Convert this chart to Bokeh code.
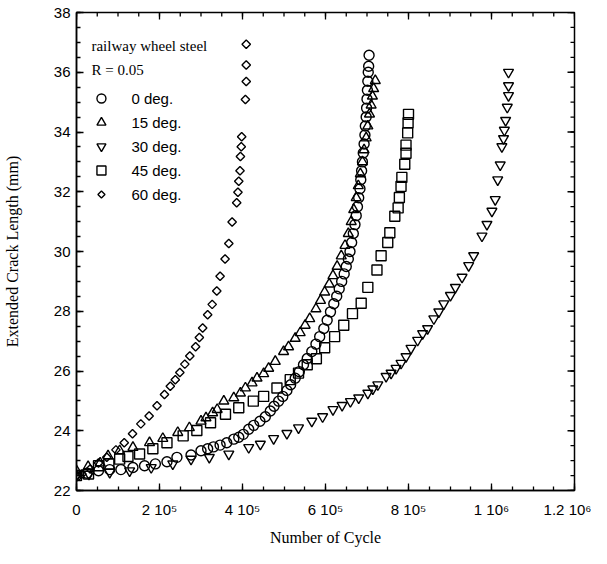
import numpy as np
from bokeh.plotting import figure
from bokeh.models import FixedTicker, Range1d, Label
from bokeh.embed import file_html
from bokeh.resources import INLINE

# ---------------- data (cycles, crack length mm) ----------------
cyc_0 = [0, 25e3, 53e3, 80e3, 107e3, 136e3, 164e3, 190e3, 218e3, 242e3, 276e3, 300e3, 316e3,
         330e3, 346e3, 362e3, 379e3, 391e3, 402e3, 415e3, 427e3, 442e3, 455e3, 467e3, 476e3,
         487e3, 497e3, 507e3, 516e3, 527e3, 537e3, 547e3, 556e3, 567e3, 577e3, 586e3, 596e3,
         604e3, 612e3, 620e3, 627e3, 633e3, 639e3, 645e3, 650e3, 655e3, 659e3, 663e3, 667e3,
         671e3, 674e3, 677e3, 680e3, 683e3, 685e3, 687e3, 689e3, 691e3, 693e3, 695e3, 696e3,
         698e3, 699e3, 700e3, 701e3, 702e3, 703e3, 704e3, 705e3]
len_0 = [22.50, 22.58, 22.66, 22.70, 22.70, 22.77, 22.83, 22.89, 22.96, 23.11, 23.19, 23.33, 23.40,
         23.46, 23.52, 23.60, 23.72, 23.78, 23.88, 24.05, 24.18, 24.32, 24.47, 24.66, 24.82,
         24.99, 25.15, 25.35, 25.54, 25.76, 25.98, 26.21, 26.42, 26.65, 26.90, 27.15, 27.42,
         27.70, 27.98, 28.25, 28.50, 28.75, 29.00, 29.25, 29.50, 29.75, 30.00, 30.30, 30.60,
         30.90, 31.20, 31.50, 31.80, 32.10, 32.40, 32.70, 33.00, 33.30, 33.60, 33.90, 34.20,
         34.50, 34.80, 35.10, 35.40, 35.70, 36.00, 36.20, 36.57]

cyc_15 = [0, 28e3, 57e3, 76e3, 104e3, 136e3, 176e3, 208e3, 244e3, 272e3, 300e3, 312e3, 328e3,
          339e3, 355e3, 379e3, 395e3, 407e3, 423e3, 435e3, 451e3, 463e3, 479e3, 499e3, 511e3,
          527e3, 539e3, 551e3, 562e3, 577e3, 588e3, 598e3, 609e3, 618e3, 628e3, 638e3, 647e3,
          655e3, 662e3, 668e3, 674e3, 679e3, 684e3, 689e3, 693e3, 698e3, 702e3, 706e3, 710e3,
          713e3, 716e3, 720e3]
len_15 = [22.66, 22.80, 22.92, 23.16, 23.33, 23.44, 23.60, 23.74, 23.94, 24.10, 24.32, 24.43, 24.60,
          24.71, 24.99, 25.10, 25.26, 25.43, 25.60, 25.76, 25.91, 26.09, 26.32, 26.65, 26.81,
          27.09, 27.28, 27.53, 27.75, 28.08, 28.36, 28.64, 28.91, 29.19, 29.50, 29.85, 30.20,
          30.60, 31.00, 31.40, 31.80, 32.20, 32.60, 33.00, 33.40, 33.80, 34.20, 34.60, 34.90,
          35.20, 35.45, 35.72]

cyc_30 = [0, 30e3, 80e3, 128e3, 180e3, 232e3, 276e3, 320e3, 367e3, 415e3, 443e3, 475e3, 507e3,
          535e3, 567e3, 593e3, 618e3, 640e3, 660e3, 680e3, 702e3, 714e3, 726e3, 746e3, 758e3,
          770e3, 782e3, 794e3, 806e3, 822e3, 834e3, 846e3, 861e3, 873e3, 885e3, 901e3, 913e3,
          929e3, 945e3, 957e3, 977e3, 989e3, 1001e3, 1009e3, 1015e3, 1021e3, 1025e3, 1029e3,
          1031e3, 1034e3, 1038e3, 1041e3, 1041e3, 1041e3]
len_30 = [22.50, 22.55, 22.61, 22.66, 22.77, 22.89, 23.05, 23.11, 23.22, 23.44, 23.55, 23.74, 23.91,
          24.10, 24.32, 24.47, 24.71, 24.85, 24.98, 25.10, 25.26, 25.40, 25.54, 25.82, 25.93,
          26.09, 26.26, 26.48, 26.76, 27.03, 27.25, 27.42, 27.75, 27.98, 28.25, 28.53, 28.80,
          29.14, 29.53, 29.86, 30.52, 30.91, 31.35, 31.74, 32.40, 32.90, 33.51, 33.78,
          34.06, 34.39, 34.83, 35.22, 35.55, 36.00]

cyc_45 = [0, 29e3, 53e3, 78e3, 104e3, 124e3, 152e3, 184e3, 218e3, 257e3, 290e3, 323e3, 359e3,
          391e3, 426e3, 451e3, 483e3, 515e3, 535e3, 556e3, 578e3, 598e3, 622e3, 644e3, 665e3,
          686e3, 702e3, 724e3, 734e3, 750e3, 755e3, 767e3, 775e3, 778e3, 782e3, 784e3, 791e3,
          794e3, 794e3, 798e3, 799e3, 800e3]
len_45 = [22.50, 22.55, 22.83, 22.89, 23.05, 23.14, 23.22, 23.40, 23.60, 23.83, 24.01, 24.27, 24.55,
          24.77, 24.99, 25.15, 25.43, 25.71, 25.93, 26.21, 26.41, 26.78, 27.15, 27.53, 27.92,
          28.27, 28.80, 29.38, 29.86, 30.30, 30.63, 31.18, 31.46, 31.81, 32.18, 32.48, 32.92,
          33.29, 33.56, 33.97, 34.31, 34.59]

cyc_60 = [1e3, 13e3, 33e3, 53e3, 73e3, 95e3, 115e3, 135e3, 155e3, 175e3, 194e3, 212e3, 226e3,
          238e3, 249e3, 261e3, 273e3, 287e3, 296e3, 304e3, 316e3, 327e3, 338e3, 346e3, 358e3,
          367e3, 375e3, 386e3, 389e3, 391e3, 394e3, 395e3, 397e3, 398e3, 407e3, 409e3, 409e3,
          409e3]
len_60 = [22.50, 22.55, 22.72, 22.92, 23.11, 23.36, 23.60, 23.90, 24.23, 24.49, 24.84, 25.21, 25.49,
          25.71, 25.95, 26.23, 26.50, 26.81, 27.12, 27.44, 27.88, 28.23, 28.68, 29.17, 29.75,
          30.27, 30.99, 31.63, 31.98, 32.35, 32.70, 33.18, 33.51, 33.84, 35.09, 35.69, 36.24,
          36.94]

series_labels = ["0 deg.", "15 deg.", "30 deg.", "45 deg.", "60 deg."]
x_major = [0, 200000, 400000, 600000, 800000, 1000000, 1200000]
x_tick_labels = ["0", "2 10\u2075", "4 10\u2075", "6 10\u2075", "8 10\u2075", "1 10\u2076", "1.2 10\u2076"]
y_major = [22, 24, 26, 28, 30, 32, 34, 36, 38]
x_minor = [i * 50000 for i in range(25)]
y_minor = [22 + i * 0.5 for i in range(33)]

# ---------------- figure ----------------
X0, X1, Y0, Y1 = 0, 1.2e6, 22, 38
W, H = 591, 548
BL, BR, BT, BB = 75, 17, 12, 58
FW, FH = W - BL - BR, H - BT - BB  # frame size in px
MAJ, MIN = 7, 4    # tick lengths in px

p = figure(width=W, height=H, output_backend="svg", toolbar_location=None,
           x_range=Range1d(X0, X1), y_range=Range1d(Y0, Y1),
           min_border_left=BL, min_border_right=BR, min_border_top=BT, min_border_bottom=BB)
p.xgrid.visible = False
p.ygrid.visible = False
p.outline_line_color = "black"
p.outline_line_width = 1.5

xax = p.xaxis[0]
yax = p.yaxis[0]
xax.ticker = FixedTicker(ticks=x_major, minor_ticks=x_minor)
yax.ticker = FixedTicker(ticks=y_major, minor_ticks=y_minor)

for ax in [xax, yax]:
    ax.axis_line_color = "black"
    ax.axis_line_width = 1.5
    ax.major_tick_in = MAJ
    ax.major_tick_out = 0
    ax.minor_tick_in = MIN
    ax.minor_tick_out = 0
    ax.major_tick_line_width = 1.3
    ax.minor_tick_line_width = 1.3
    ax.major_label_text_font = "Liberation Sans"
    ax.major_label_text_font_size = "15px"
    ax.major_label_text_color = "black"
    ax.axis_label_text_font = "Liberation Serif"
    ax.axis_label_text_font_size = "16px"
    ax.axis_label_text_font_style = "normal"
    ax.axis_label_text_color = "black"

xax.major_label_overrides = {t: s for t, s in zip(x_major, x_tick_labels)}
xax.major_label_standoff = 10
xax.axis_label = "Number of Cycle"
xax.axis_label_standoff = 8
yax.axis_label = "Extended Crack Length (mm)"
yax.major_label_standoff = 6
yax.axis_label_standoff = 30

# mirrored inward ticks on top and right edges
dx_per_px = (X1 - X0) / FW
dy_per_px = (Y1 - Y0) / FH
for ticks, ln in [(x_major, MAJ), (x_minor, MIN)]:
    p.segment(x0=ticks, y0=[Y1] * len(ticks), x1=ticks, y1=[Y1 - ln * dy_per_px] * len(ticks),
              line_color="black", line_width=1.3)
for ticks, ln in [(y_major, MAJ), (y_minor, MIN)]:
    p.segment(x0=[X1] * len(ticks), y0=ticks, x1=[X1 - ln * dx_per_px] * len(ticks), y1=ticks,
              line_color="black", line_width=1.3)

styles = [
    dict(marker="circle", size=10, angle=0),
    dict(marker="triangle", size=10, angle=0),
    dict(marker="inverted_triangle", size=10, angle=0),
    dict(marker="square", size=10, angle=0),
    dict(marker="square", size=6, angle=np.pi / 4),
]
data = [(cyc_0, len_0), (cyc_15, len_15), (cyc_30, len_30), (cyc_45, len_45), (cyc_60, len_60)]
for (xs, ys), st in zip(data, styles):
    p.scatter(xs, ys, marker=st["marker"], size=st["size"], angle=st["angle"],
              fill_color=None, line_color="black", line_width=1.4)


# ---------------- legend (placed by pixel offsets from frame top-left) ----------------
def frame_to_data(dx, dy):
    return X0 + dx * dx_per_px, Y1 - dy * dy_per_px


hx, hy = frame_to_data(15, 33)
p.add_layout(Label(x=hx, y=hy, text="railway wheel steel", text_font="Liberation Serif",
                   text_font_size="15px", text_baseline="middle", text_color="black"))
hx, hy = frame_to_data(15, 57)
p.add_layout(Label(x=hx, y=hy, text="R = 0.05", text_font="Liberation Serif",
                   text_font_size="15px", text_baseline="middle", text_color="black"))

row_dy = [86, 110, 134, 158, 182]
for lab, dy, st in zip(series_labels, row_dy, styles):
    mx, my = frame_to_data(25, dy)
    p.scatter([mx], [my], marker=st["marker"], size=st["size"] - 1, angle=st["angle"],
              fill_color=None, line_color="black", line_width=1.4)
    tx, ty = frame_to_data(55, dy)
    p.add_layout(Label(x=tx, y=ty, text=lab, text_font="Liberation Sans",
                       text_font_size="15px", text_baseline="middle", text_color="black"))

open("out.html", "w").write(file_html(p, INLINE))
